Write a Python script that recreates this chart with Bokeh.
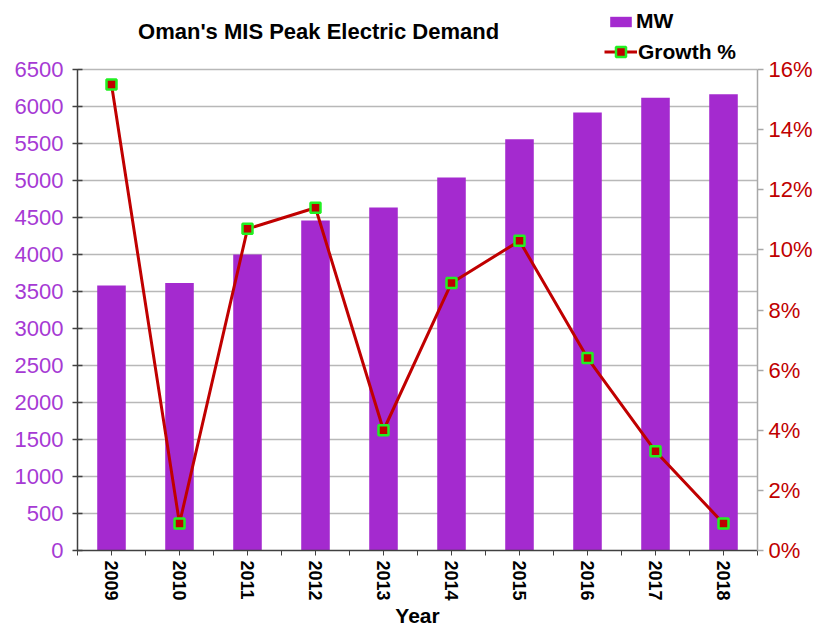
from bokeh.plotting import figure
from bokeh.models import (Range1d, LinearAxis, FixedTicker, PrintfTickFormatter,
                          Legend, LegendItem, Label, ColumnDataSource, Grid)
from bokeh.embed import file_html
from bokeh.resources import INLINE

years = ["2009", "2010", "2011", "2012", "2013", "2014", "2015", "2016", "2017", "2018"]
mw = [3581, 3614, 3999, 4459, 4635, 5041, 5557, 5920, 6118, 6164]
growth = [15.5, 0.9, 10.7, 11.4, 4.0, 8.9, 10.3, 6.4, 3.3, 0.9]
mw_ticks = list(range(0, 6501, 500))
pct_ticks = list(range(0, 17, 2))

PURPLE = "#A42ACF"
LABEL_PURPLE = "#A63AD4"
RED = "#C00000"
FONT = "Liberation Sans"

# frame spans from the top of the page to the x axis; axes are bounded
FRAME_H = 550
PLOT_H = 481
MW_MAX = 6500
PCT_MAX = 16
y_top = MW_MAX * FRAME_H / PLOT_H
pct_top = PCT_MAX * FRAME_H / PLOT_H

xs = [i + 0.5 for i in range(len(years))]
src = ColumnDataSource(dict(x=xs, mw=mw, growth=growth, year=years))

p = figure(frame_width=680, frame_height=FRAME_H, output_backend="svg", toolbar_location=None,
           x_range=Range1d(0, len(years)), y_range=Range1d(0, y_top),
           min_border_left=77, min_border_top=0, min_border_right=64, min_border_bottom=78,
           x_axis_type=None, y_axis_type=None)
p.outline_line_color = None
p.background_fill_color = "white"
p.border_fill_color = "white"
p.extra_y_ranges = {"pct": Range1d(0, pct_top)}

# left axis
yl = LinearAxis(ticker=FixedTicker(ticks=mw_ticks), bounds=(0, MW_MAX))
yl.axis_line_color = "#404040"
yl.axis_line_width = 1.5
yl.major_tick_line_color = "#404040"
yl.major_tick_line_width = 1.5
yl.major_tick_in = 5
yl.major_tick_out = 5
yl.minor_tick_line_color = None
yl.major_label_text_color = LABEL_PURPLE
yl.major_label_text_font = FONT
yl.major_label_text_font_size = "22px"
yl.major_label_standoff = 9
p.add_layout(yl, "left")

# right axis
yr = LinearAxis(y_range_name="pct", ticker=FixedTicker(ticks=pct_ticks),
                formatter=PrintfTickFormatter(format="%d%%"), bounds=(0, PCT_MAX))
yr.axis_line_color = "#A8A8A8"
yr.axis_line_width = 1.5
yr.major_tick_line_color = "#A8A8A8"
yr.major_tick_line_width = 1.5
yr.major_tick_in = 0
yr.major_tick_out = 6
yr.minor_tick_line_color = None
yr.major_label_text_color = RED
yr.major_label_text_font = FONT
yr.major_label_text_font_size = "22px"
yr.major_label_standoff = 5
p.add_layout(yr, "right")

# bottom axis
xb = LinearAxis(ticker=FixedTicker(ticks=xs, minor_ticks=list(range(len(years) + 1))),
                major_label_overrides={x: y for x, y in zip(xs, years)})
xb.axis_line_color = "#404040"
xb.axis_line_width = 1.5
xb.major_tick_line_color = "#404040"
xb.minor_tick_line_color = "#404040"
xb.major_tick_in = 0
xb.major_tick_out = 5
xb.minor_tick_in = 0
xb.minor_tick_out = 5
xb.major_label_orientation = "vertical"
xb.major_label_text_font = FONT
xb.major_label_text_font_style = "bold"
xb.major_label_text_font_size = "18px"
xb.major_label_text_color = "black"
xb.major_label_standoff = 5
xb.axis_label = "Year"
xb.axis_label_text_font = FONT
xb.axis_label_text_font_style = "bold"
xb.axis_label_text_font_size = "21px"
xb.axis_label_text_color = "black"
xb.axis_label_standoff = 0
p.add_layout(xb, "below")

p.add_layout(Grid(dimension=1, ticker=FixedTicker(ticks=mw_ticks), bounds=(0, MW_MAX),
                  grid_line_color="#B8B8B8", grid_line_width=1.5))

bars = p.vbar(x="x", top="mw", width=0.42, source=src, fill_color=PURPLE, line_color=None)
ln = p.line(x="x", y="growth", source=src, y_range_name="pct", line_color=RED, line_width=3)
mk = p.scatter(x="x", y="growth", source=src, y_range_name="pct", marker="square", size=10,
               fill_color=RED, line_color="#22F022", line_width=2.5)


def style_legend(lg):
    lg.label_text_font = FONT
    lg.label_text_font_style = "bold"
    lg.label_text_font_size = "21px"
    lg.label_text_color = "black"
    lg.padding = 0
    lg.margin = 0
    lg.border_line_color = None
    lg.background_fill_alpha = 0


leg_mw = Legend(items=[LegendItem(label="MW", renderers=[bars])], location=(530, 517))
style_legend(leg_mw)
leg_mw.glyph_width = 27
leg_mw.glyph_height = 13
leg_mw.label_standoff = 2
p.add_layout(leg_mw, "center")

leg_gr = Legend(items=[LegendItem(label="Growth %", renderers=[ln, mk])], location=(527, 486))
style_legend(leg_gr)
leg_gr.glyph_width = 33
leg_gr.glyph_height = 25
leg_gr.label_standoff = 1
p.add_layout(leg_gr, "center")

title = Label(x=3.545, y=MW_MAX * (550 - 31) / PLOT_H, text="Oman's MIS Peak Electric Demand",
              text_align="center", text_baseline="middle", text_font=FONT,
              text_font_style="bold", text_font_size="22px", text_color="black")
p.add_layout(title)

open("out.html", "w").write(file_html(p, INLINE))
